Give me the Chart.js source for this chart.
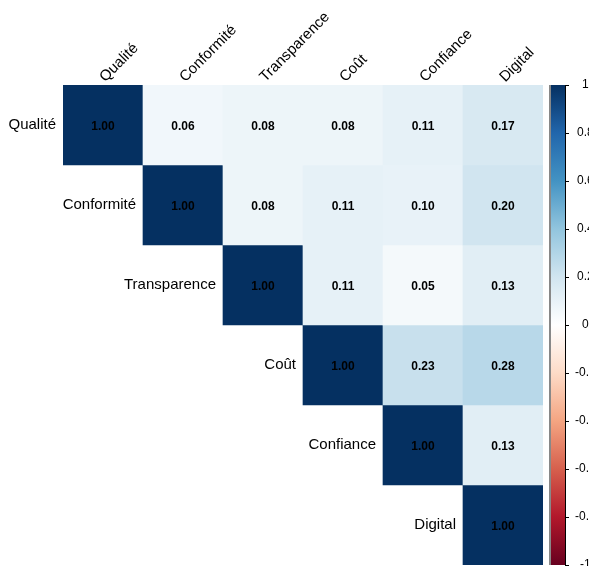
<!DOCTYPE html>
<html>
<head>
<meta charset="utf-8">
<script src="https://cdn.jsdelivr.net/npm/chart.js@4/dist/chart.umd.min.js"></script>
<style>
  html, body { margin: 0; padding: 0; background: #fff; }
  #wrap { width: 589px; height: 566px; }
</style>
</head>
<body>
<div id="wrap"><canvas id="corrChart" width="589" height="566"></canvas></div>
<script>
const vars = ['Qualité', 'Conformité', 'Transparence', 'Coût', 'Confiance', 'Digital'];

// upper triangle of the correlation matrix, one row per variable
const rowQualite      = [1.00, 0.06, 0.08, 0.08, 0.11, 0.17];
const rowConformite   = [null, 1.00, 0.08, 0.11, 0.10, 0.20];
const rowTransparence = [null, null, 1.00, 0.11, 0.05, 0.13];
const rowCout         = [null, null, null, 1.00, 0.23, 0.28];
const rowConfiance    = [null, null, null, null, 1.00, 0.13];
const rowDigital      = [null, null, null, null, null, 1.00];
const corrRows = [rowQualite, rowConformite, rowTransparence, rowCout, rowConfiance, rowDigital];

const legendTicks = [1, 0.8, 0.6, 0.4, 0.2, 0, -0.2, -0.4, -0.6, -0.8, -1];

// RdBu palette, from -1 to 1
const palette = ['#67001F', '#B2182B', '#D6604D', '#F4A582', '#FDDBC7', '#FFFFFF',
                 '#D1E5F0', '#92C5DE', '#4393C3', '#2166AC', '#053061'];

function hexToRgb(h) {
  return [parseInt(h.slice(1, 3), 16), parseInt(h.slice(3, 5), 16), parseInt(h.slice(5, 7), 16)];
}

function corrColor(v) {
  let t = (v + 1) / 2 * (palette.length - 1);
  let i = Math.min(Math.floor(t), palette.length - 2);
  let f = t - i;
  let a = hexToRgb(palette[i]), b = hexToRgb(palette[i + 1]);
  let c = a.map((x, k) => Math.round(x + (b[k] - x) * f));
  return `rgb(${c[0]}, ${c[1]}, ${c[2]})`;
}

// each cell is a floating bar spanning its row on the reversed y scale
let datasets = corrRows.map((row, i) => ({
  label: vars[i],
  data: row.map(v => v === null ? null : [i, i + 1]),
  backgroundColor: row.map(v => v === null ? 'transparent' : corrColor(v)),
  borderWidth: 0,
  barPercentage: 1,
  categoryPercentage: 1,
  grouped: false,
  yAxisID: 'y'
}));

const FONT = '"Liberation Sans", Arial, sans-serif';

const corrPlugin = {
  id: 'corrPlugin',
  afterDatasetsDraw(chart) {
    const ctx = chart.ctx;
    ctx.save();
    // coefficients
    ctx.font = 'bold 12px ' + FONT;
    ctx.fillStyle = '#000';
    ctx.textAlign = 'center';
    ctx.textBaseline = 'middle';
    corrRows.forEach((row, i) => {
      let meta = chart.getDatasetMeta(i);
      row.forEach((v, j) => {
        if (v === null) return;
        let bar = meta.data[j];
        ctx.fillText(v.toFixed(2), bar.x, (bar.y + bar.base) / 2 + 1.5);
      });
    });
    // row names next to the diagonal
    ctx.font = '15px ' + FONT;
    ctx.textAlign = 'right';
    corrRows.forEach((row, i) => {
      let bar = chart.getDatasetMeta(i).data[i];
      ctx.fillText(vars[i], bar.x - bar.width / 2 - 7, (bar.y + bar.base) / 2);
    });

    // colour legend
    const cb = chart.scales.cb;
    const x0 = cb.left + 6, x1 = cb.left + 23;
    const yTop = cb.getPixelForValue(1), yBot = cb.getPixelForValue(-1);
    let grad = ctx.createLinearGradient(0, yBot, 0, yTop);
    palette.forEach((c, k) => grad.addColorStop(k / (palette.length - 1), c));
    ctx.fillStyle = grad;
    ctx.fillRect(x0, yTop, x1 - x0, yBot - yTop);
    ctx.fillStyle = '#888';
    ctx.fillRect(x0, yTop, 2, yBot - yTop);
    ctx.strokeStyle = '#000';
    ctx.lineWidth = 1;
    ctx.beginPath();
    ctx.moveTo(x1 - 0.5, yTop);
    ctx.lineTo(x1 - 0.5, yBot);
    legendTicks.forEach(t => {
      let y = Math.round(cb.getPixelForValue(t)) + 0.5;
      ctx.moveTo(x1 - 1, y);
      ctx.lineTo(x1 + 3, y);
    });
    ctx.stroke();
    ctx.restore();
  }
};

let ctx = document.getElementById('corrChart').getContext('2d');
let chart = new Chart(ctx, {
  type: 'bar',
  data: { labels: vars, datasets: datasets },
  options: {
    responsive: false,
    animation: false,
    layout: { padding: { left: 63, bottom: 1, top: 0, right: 0 } },
    plugins: { legend: { display: false }, tooltip: { enabled: false } },
    scales: {
      x: {
        position: 'top',
        grid: { display: false, drawTicks: false },
        border: { display: false },
        ticks: {
          autoSkip: false,
          minRotation: 45,
          maxRotation: 45,
          padding: -1,
          labelOffset: 12,
          color: '#000',
          font: { family: FONT, size: 15 }
        },
        afterFit(scale) { scale.height = 85; }
      },
      y: {
        type: 'linear',
        min: 0,
        max: 6,
        reverse: true,
        display: false
      },
      cb: {
        type: 'linear',
        position: 'right',
        min: -1,
        max: 1,
        grid: { display: false, drawTicks: false },
        border: { display: false },
        ticks: {
          padding: 32,
          crossAlign: 'center',
          color: '#000',
          font: { family: FONT, size: 12 },
          callback: v => String(+v.toFixed(1))
        },
        afterBuildTicks(scale) { scale.ticks = legendTicks.map(v => ({ value: v })); },
        afterFit(scale) {
          scale.width = 46;
          scale.paddingTop = 0;
          scale.paddingBottom = 0;
        }
      }
    }
  },
  plugins: [corrPlugin]
});
</script>
</body>
</html>
